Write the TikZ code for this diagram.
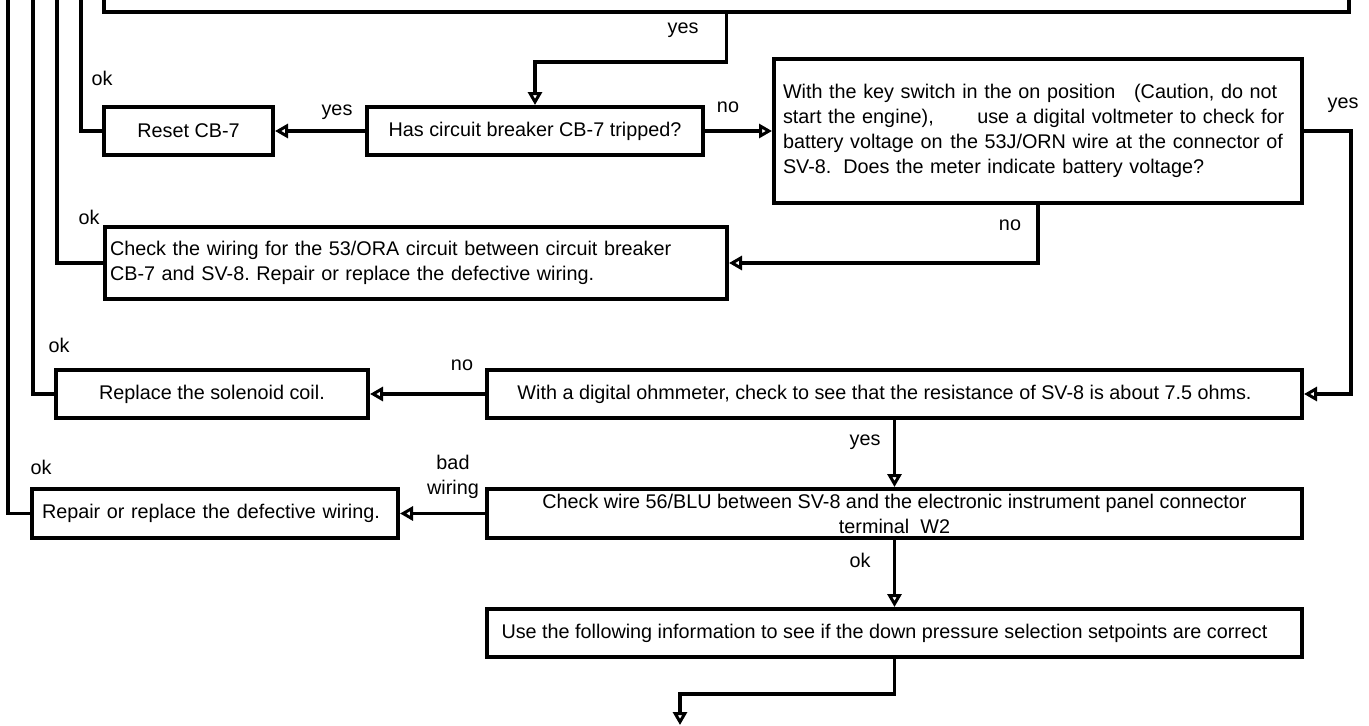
\documentclass[tikz,border=0pt]{standalone}
\usepackage{fontspec}
\setmainfont{Liberation Sans}
\usetikzlibrary{arrows.meta}
\newcommand{\diafont}{\fontsize{19.8}{25}\selectfont}
\frenchspacing
\begin{document}
\begin{tikzpicture}[x=1pt,y=-1pt,
  box/.style={draw, line width=4pt, inner sep=0pt, font=\diafont},
  conn/.style={line width=3.5pt, -{Triangle[open,length=13pt,width=14pt,line width=3pt]}},
  wire/.style={line width=3.5pt},
  lbl/.style={font=\diafont, inner sep=0pt}
]
\clip (0,0) rectangle (1369,726);
% boxes
\node[box, minimum width=1245pt, minimum height=60pt] (top) at (726.5,-18) {};
\node[box, minimum width=169pt, minimum height=48pt] (reset) at (188.5,131) {Reset CB-7};
\node[box, minimum width=336pt, minimum height=48pt] (has) at (535,131) {Has circuit breaker CB-7 tripped?};
\node[box, minimum width=528pt, minimum height=144pt, text width=510pt, inner xsep=9pt, align=left] (volt) at (1038,131)
 {With the key switch in the on position\hspace{0.95em}(Caution, do not\\
  start the engine),\hspace{2.2em}use a digital voltmeter to check for\\
  battery voltage on\hspace{0.4em}the 53J/ORN wire at the connector of\\
  SV-8.\hspace{0.6em}Does the meter indicate battery voltage?};
\node[box, minimum width=622pt, minimum height=72pt, text width=612pt, inner xsep=5pt, align=left] (wiring) at (416,263)
 {Check the wiring for the 53/ORA circuit between circuit breaker\\
  CB-7 and SV-8. Repair or replace the defective wiring.};
\node[box, minimum width=312pt, minimum height=48pt] (solenoid) at (212,394) {Replace the solenoid coil.};
\node[box, minimum width=815pt, minimum height=48pt] (ohm) at (894.5,394)
 {With a digital ohmmeter, check to see that the resistance of SV-8 is about 7.5 ohms.\hspace*{20pt}};
\node[box, minimum width=366pt, minimum height=49pt, text width=346pt, inner xsep=10pt, align=left] (repair) at (215,513.5)
 {Repair or replace the defective wiring.};
\node[box, minimum width=815pt, minimum height=49pt, align=center] (checkwire) at (894.5,513.5)
 {Check wire 56/BLU between SV-8 and the electronic instrument panel connector\\
  terminal\hspace{0.56em}W2};
\node[box, minimum width=815pt, minimum height=48pt] (use) at (894.5,633)
 {Use the following information to see if the down pressure selection setpoints are correct\hspace*{20pt}};
% free ends
\coordinate (e1) at (81,-10);
\coordinate (e2) at (57,-10);
\coordinate (e3) at (33,-10);
\coordinate (e4) at (8,-10);
\coordinate (e5) at (680,725);
% connectors
\draw[conn] (top.south) -- ++(0,48) -| (has.north);
\draw[conn] (has.west) -- (reset.east);
\draw[wire] (reset.west) -| (e1);
\draw[conn] (has.east) -- (volt.west);
\draw[conn] (volt.south) |- (wiring.east);
\draw[wire] (wiring.west) -| (e2);
\draw[conn] (volt.east) -- ++(47,0) |- (ohm.east);
\draw[conn] (ohm.west) -- (solenoid.east);
\draw[wire] (solenoid.west) -| (e3);
\draw[conn] (ohm.south) -- (checkwire.north);
\draw[conn] (checkwire.west) -- (repair.east);
\draw[wire] (repair.west) -| (e4);
\draw[conn] (checkwire.south) -- (use.north);
\draw[conn] (use.south) -- ++(0,35) -| (e5);
% labels
\node[lbl] (l1) at (683,30) {yes};
\node[lbl] (l2) at (337,112) {yes};
\node[lbl] (l3) at (102,78) {ok};
\node[lbl] (l4) at (728,107) {no};
\node[lbl] (l5) at (1343,105) {yes};
\node[lbl] (l6) at (1010,225) {no};
\node[lbl] (l7) at (89,217) {ok};
\node[lbl] (l8) at (462,365) {no};
\node[lbl] (l9) at (59,345) {ok};
\node[lbl] (l10) at (865,442) {yes};
\node[lbl, align=center] (l11) at (453,477) {bad\\wiring};
\node[lbl] (l12) at (41,467) {ok};
\node[lbl] (l13) at (860,560) {ok};
\end{tikzpicture}
\end{document}
